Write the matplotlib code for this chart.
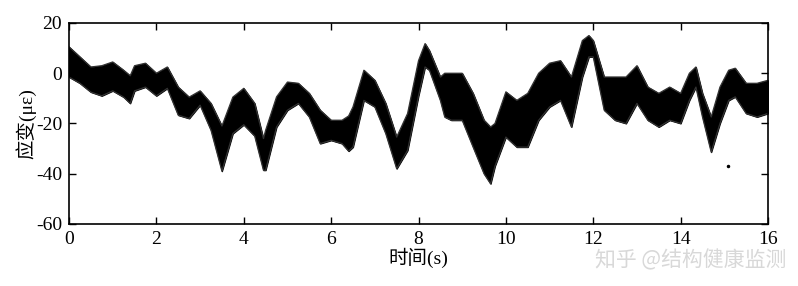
import matplotlib
matplotlib.use("Agg")
import matplotlib.pyplot as plt

# time (s)
t = [0.0, 0.25, 0.5, 0.75, 1.0, 1.25, 1.4, 1.5, 1.75, 2.0, 2.25, 2.5, 2.75, 3.0,
     3.25, 3.5, 3.75, 4.0, 4.25, 4.45, 4.5, 4.75, 5.0, 5.25, 5.5, 5.75, 6.0,
     6.25, 6.4, 6.5, 6.75, 7.0, 7.25, 7.5, 7.75, 8.0, 8.15, 8.25, 8.5, 8.6,
     8.75, 9.0, 9.25, 9.5, 9.65, 9.75, 10.0, 10.25, 10.5, 10.75, 11.0, 11.25,
     11.5, 11.75, 11.9, 12.0, 12.25, 12.5, 12.75, 13.0, 13.25, 13.5, 13.75,
     14.0, 14.2, 14.35, 14.5, 14.7, 14.9, 15.1, 15.25, 15.5, 15.75, 16.0]
# upper envelope of strain (με)
upper = [10.5, 6.5, 2.5, 3.0, 4.5, 1.2, -1.0, 3.0, 4.0, 0.0, 2.5, -5.5, -9.5, -7.0,
         -12.0, -21.0, -9.5, -6.0, -12.0, -26.0, -22.7, -9.4, -3.5, -4.0, -8.0, -14.7, -18.7,
         -18.7, -17.0, -13.4, 1.2, -2.8, -12.0, -25.4, -16.0, 5.0, 11.8, 9.0, -1.5, 0.0,
         0.0, 0.0, -8.0, -18.7, -21.4, -20.0, -7.4, -10.8, -8.0, 0.0, 4.0, 5.0,
         -1.5, 13.0, 15.0, 13.0, -1.5, -1.5, -1.5, 3.0, -5.5, -8.0, -5.5,
         -8.0, 0.0, 2.5, -8.0, -17.4, -5.5, 1.2, 2.0, -4.0, -4.0, -2.8]
# lower envelope of strain (με)
lower = [-1.5, -4.0, -7.5, -9.0, -7.0, -9.5, -12.0, -7.0, -5.5, -9.0, -6.0, -16.7, -18.0, -12.7,
         -22.7, -39.0, -24.0, -20.5, -25.0, -38.6, -38.6, -21.4, -14.7, -12.0, -17.4, -28.0, -26.7,
         -28.0, -31.0, -29.4, -10.8, -13.4, -24.0, -38.0, -30.7, -9.0, 2.5, 1.2, -10.8, -17.4,
         -18.7, -18.7, -29.4, -40.0, -44.0, -37.0, -25.4, -29.4, -29.4, -18.7, -13.4, -10.8,
         -21.4, -1.5, 6.5, 6.5, -14.7, -18.7, -20.0, -12.0, -18.7, -21.4, -18.7,
         -20.0, -10.8, -5.5, -17.4, -31.4, -20.0, -10.8, -9.4, -16.0, -17.4, -16.0]
# stray speck visible on the scan
speck_t = [15.08]
speck_v = [-37.0]

xticks = [0, 2, 4, 6, 8, 10, 12, 14, 16]
yticks = [-60, -40, -20, 0, 20]

plt.rcParams['font.family'] = ['Liberation Serif', 'Noto Sans CJK SC']
plt.rcParams['axes.unicode_minus'] = False

fig = plt.figure(figsize=(7.98, 2.86), dpi=100)
ax = fig.add_axes([0.0865, 0.2168, 0.8759, 0.7028])

ax.fill_between(t, lower, upper, color='black', linewidth=0.8, edgecolor='black')
ax.plot(t, upper, color='#333333', linewidth=0.9)
ax.plot(t, lower, color='#333333', linewidth=0.9)
ax.plot(speck_t, speck_v, 'o', color='black', markersize=1.5)

ax.set_xlim(0, 16)
ax.set_ylim(-60, 20)
ax.set_xticks(xticks)
ax.set_yticks(yticks)
ax.tick_params(direction='in', top=True, right=True, length=5, width=1,
               labelsize=14, pad=5)
for s in ax.spines.values():
    s.set_linewidth(1.2)

ax.set_xlabel('时间(s)', fontsize=14, labelpad=0)
ax.set_ylabel('应变(με)', fontsize=14, labelpad=0)

fig.text(0.985, 0.09, '知乎 @结构健康监测', ha='right', va='center',
         fontsize=15, color='#d8d8d8', family=['Noto Sans CJK SC'])

fig.savefig('out.png', dpi=100)
